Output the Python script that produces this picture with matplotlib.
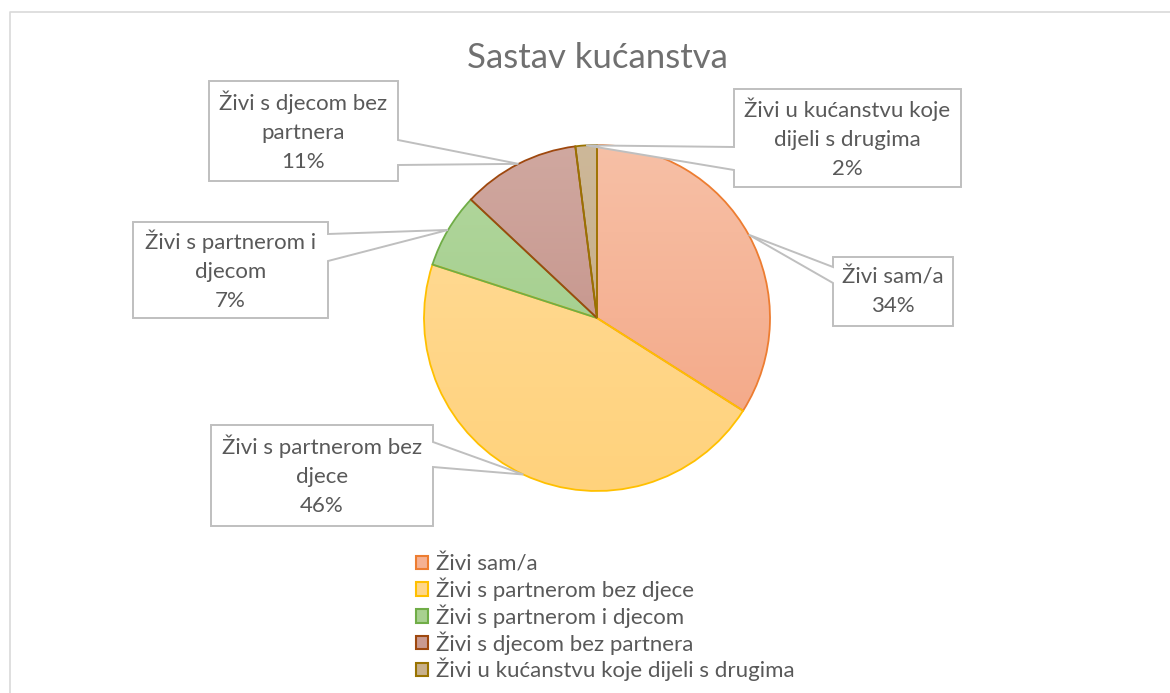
import numpy as np
import matplotlib.pyplot as plt
from matplotlib.patches import Patch, Polygon
from matplotlib.colors import LinearSegmentedColormap

# Sastav kućanstva - pie with callout labels (Excel look)

categories = ['Živi sam/a',
              'Živi s partnerom bez djece',
              'Živi s partnerom i djecom',
              'Živi s djecom bez partnera',
              'Živi u kućanstvu koje dijeli s drugima']
shares = [34, 46, 7, 11, 2]
# wrapped text used inside the callout boxes
box_text = ['Živi sam/a',
            'Živi s partnerom bez\ndjece',
            'Živi s partnerom i\ndjecom',
            'Živi s djecom bez\npartnera',
            'Živi u kućanstvu koje\ndijeli s drugima']

fill_top = ['#F7C0A6', '#FFDC9A', '#B3D79E', '#D0A8A0', '#CDB899']
fill_bot = ['#F3A482', '#FFD27C', '#9ACA84', '#C08A80', '#C2A77E']
fill_mid = ['#F5B193', '#FED68A', '#A8D090', '#C99A90', '#C8B08B']
edge_col = ['#ED7D31', '#FFC000', '#70AD47', '#9E480E', '#997300']

W, H = 1170, 693
txt_col = '#595959'
font = 'Lato'

# callout boxes in pixel coords (left, top, right, bottom), attach side, attach y's
boxes = [(833, 257, 953, 326, 'left', 267, 283),
         (211, 425, 433, 526, 'right', 442, 467),
         (133, 222, 328, 318, 'right', 234, 261),
         (209, 81, 398, 181, 'right', 140, 165),
         (734, 89, 961, 187, 'left', 147, 170)]

fig = plt.figure(figsize=(W / 100, H / 100), dpi=100)
ax = fig.add_axes([0, 0, 1, 1])
ax.set_xlim(0, W)
ax.set_ylim(0, H)
ax.axis('off')

# outer chart frame
ax.plot([10, 10, W], [0, H - 12, H - 12], color='#D9D9D9', lw=1.2, zorder=0)

cx, cy, r = 597, H - 318, 173
wedges, _ = ax.pie(shares, startangle=90, counterclock=False, center=(cx, cy),
                   radius=r, colors=fill_mid,
                   wedgeprops=dict(linewidth=1.3))
ax.set_xlim(0, W)
ax.set_ylim(0, H)

grad = np.linspace(0, 1, 256).reshape(-1, 1)
for i, w in enumerate(wedges):
    cmap = LinearSegmentedColormap.from_list('g%d' % i, [fill_bot[i], fill_top[i]])
    im = ax.imshow(grad, extent=[cx - r, cx + r, cy - r, cy + r], origin='lower',
                   cmap=cmap, aspect='auto', zorder=2, interpolation='bilinear')
    im.set_clip_path(w)
    w.set_facecolor('none')
    w.set_edgecolor(edge_col[i])
    w.set_zorder(3)

# callouts
for i, w in enumerate(wedges):
    mid = np.deg2rad((w.theta1 + w.theta2) / 2)
    tip = (cx + r * np.cos(mid), cy + r * np.sin(mid))
    L, T, R, B, side, a1, a2 = boxes[i]
    T, B, a1, a2 = H - T, H - B, H - a1, H - a2
    if side == 'right':
        pts = [(L, T), (R, T), (R, a1), tip, (R, a2), (R, B), (L, B)]
    else:
        pts = [(L, T), (R, T), (R, B), (L, B), (L, a2), tip, (L, a1)]
    ax.add_patch(Polygon(pts, closed=True, facecolor='white', edgecolor='#BFBFBF',
                         lw=1.4, zorder=4))
    ax.text((L + R) / 2, (T + B) / 2, box_text[i] + '\n' + str(shares[i]) + '%',
            ha='center', va='center', fontsize=16, color=txt_col, family=font,
            linespacing=1.55, zorder=5)

ax.text(597, H - 58, 'Sastav kućanstva', ha='center', va='center', fontsize=25,
        color='#707070', family=font, zorder=5)

handles = [Patch(facecolor=fill_mid[i], edgecolor=edge_col[i], lw=1.5)
           for i in range(len(categories))]
fig.legend(handles, categories, loc='upper left',
           bbox_to_anchor=(405 / W, 1 - 543 / H), frameon=False,
           prop=dict(family=font, size=16), labelcolor=txt_col,
           handlelength=0.55, handleheight=0.55, handletextpad=0.35,
           labelspacing=0.15, borderpad=0)

fig.savefig('out.png', dpi=100)
